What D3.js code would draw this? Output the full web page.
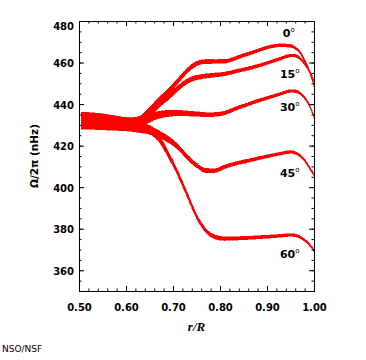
<!DOCTYPE html>
<html>
<head>
<meta charset="utf-8">
<script src="https://cdn.jsdelivr.net/npm/d3@7"></script>
<style>
  html, body { margin: 0; padding: 0; background: #fff; }
  svg { display: block; }
  text { font-family: "DejaVu Sans", sans-serif; }
</style>
</head>
<body>
<svg id="chart" width="366" height="360"></svg>
<script>
// ---- data ----
const radius = [0.505, 0.53, 0.56, 0.59, 0.61, 0.63, 0.65, 0.67, 0.69, 0.71, 0.73, 0.75, 0.77, 0.79,
                0.81, 0.83, 0.85, 0.87, 0.89, 0.91, 0.93, 0.95, 0.96, 0.97, 0.98, 0.99, 1.00];
const lat0  = [432.5, 432.3, 431.8, 431.0, 430.8, 432.0, 436.5, 441.5, 446.0, 451.0, 456.0, 459.5, 460.5, 460.5,
               460.6, 461.8, 463.5, 465.0, 466.5, 467.8, 468.3, 468.0, 467.0, 465.0, 461.0, 456.0, 449.0];
const lat15 = [432.3, 432.1, 431.6, 430.9, 430.7, 431.5, 435.5, 440.0, 443.5, 447.5, 451.0, 452.8, 453.5, 454.0,
               454.5, 455.6, 456.6, 457.8, 459.0, 460.5, 462.0, 463.4, 463.3, 462.0, 459.5, 456.0, 451.0];
const lat30 = [432.0, 431.9, 431.4, 430.8, 430.6, 431.3, 433.3, 434.8, 435.5, 435.7, 435.5, 435.2, 434.9, 435.0,
               435.7, 437.5, 439.2, 440.8, 442.2, 443.6, 445.0, 446.3, 446.2, 445.3, 443.0, 439.5, 434.0];
const lat45 = [431.8, 431.6, 431.0, 430.3, 430.0, 429.3, 427.5, 425.5, 423.0, 419.5, 414.5, 410.5, 408.0, 408.0,
               409.8, 411.2, 412.3, 413.3, 414.3, 415.3, 416.2, 417.0, 416.5, 415.2, 413.0, 409.5, 406.0];
const lat60 = [431.5, 431.3, 430.7, 430.0, 429.5, 428.5, 427.5, 423.5, 415.8, 406.8, 396.5, 386.0, 379.0, 376.0,
               375.2, 375.3, 375.5, 375.7, 376.0, 376.3, 376.6, 377.0, 376.8, 376.0, 374.5, 372.5, 369.5];
// half-width of each band (uncertainty, nHz)
const halfWidth = [3.6, 3.5, 3.2, 2.8, 2.6, 2.3, 2.0, 1.7, 1.5, 1.3, 1.2, 1.1, 1.0, 0.95,
                   0.9, 0.85, 0.8, 0.78, 0.75, 0.72, 0.7, 0.68, 0.66, 0.64, 0.62, 0.6, 0.55];
const latitudes = ["0", "15", "30", "45", "60"];
const seriesValues = [lat0, lat15, lat30, lat45, lat60];
// label anchor points in data units (r, nHz)
const labelR = [0.9335, 0.9275, 0.9275, 0.9275, 0.9275];
const labelV = [472.2, 452.5, 436.5, 405.0, 366.0];

const xTicks = [0.5, 0.6, 0.7, 0.8, 0.9, 1.0];
const xTickLabels = ["0.50", "0.60", "0.70", "0.80", "0.90", "1.00"];
const yTicks = [360, 380, 400, 420, 440, 460, 480];
const yTickLabels = ["360", "380", "400", "420", "440", "460", "480"];

// ---- layout ----
const svg = d3.select("#chart");
const X0 = 79, X1 = 314, Y0 = 291, Y1 = 21;
const x = d3.scaleLinear().domain([0.5, 1.0]).range([X0, X1]);
const y = d3.scaleLinear().domain([350, 480]).range([Y0, Y1]);

// bands
const area = d3.area()
  .x(d => x(d.r))
  .y0(d => y(d.v - d.h))
  .y1(d => y(d.v + d.h))
  .curve(d3.curveMonotoneX);

seriesValues.forEach((vals) => {
  const pts = radius.map((r, i) => ({ r: r, v: vals[i], h: halfWidth[i] }));
  svg.append("path")
    .datum(pts)
    .attr("d", area)
    .attr("fill", "#ff0000")
    .attr("stroke", "#ff0000")
    .attr("stroke-width", 0.5)
    .attr("shape-rendering", "crispEdges");
});

// axes
const minorX = d3.range(0, 26).map(i => 0.5 + i * 0.02);
const minorY = d3.range(0, 27).map(i => 350 + i * 5);

function styleAxis(g) {
  g.selectAll(".domain").attr("stroke", "#000").attr("stroke-width", 1);
  g.selectAll(".tick line").attr("stroke", "#000").attr("stroke-width", 1);
}

// bottom
svg.append("g").attr("transform", `translate(0,${Y0})`)
  .call(d3.axisBottom(x).tickValues(minorX).tickFormat("").tickSizeInner(-2.5).tickSizeOuter(0))
  .call(styleAxis);
const bx = svg.append("g").attr("transform", `translate(0,${Y0})`)
  .call(d3.axisBottom(x).tickValues(xTicks).tickFormat((d, i) => xTickLabels[i]).tickSizeInner(-5).tickSizeOuter(0).tickPadding(13))
  .call(styleAxis);
bx.selectAll("text").attr("font-size", 10).attr("font-weight", "bold").attr("fill", "#000");

// top
svg.append("g").attr("transform", `translate(0,${Y1})`)
  .call(d3.axisTop(x).tickValues(minorX).tickFormat("").tickSizeInner(-2.5).tickSizeOuter(0))
  .call(styleAxis);
svg.append("g").attr("transform", `translate(0,${Y1})`)
  .call(d3.axisTop(x).tickValues(xTicks).tickFormat("").tickSizeInner(-5).tickSizeOuter(0))
  .call(styleAxis);

// left
svg.append("g").attr("transform", `translate(${X0},0)`)
  .call(d3.axisLeft(y).tickValues(minorY).tickFormat("").tickSizeInner(-2.5).tickSizeOuter(0))
  .call(styleAxis);
const ly = svg.append("g").attr("transform", `translate(${X0},0)`)
  .call(d3.axisLeft(y).tickValues(yTicks).tickFormat((d, i) => yTickLabels[i]).tickSizeInner(-5).tickSizeOuter(0).tickPadding(5))
  .call(styleAxis);
ly.selectAll("text").attr("font-size", 10).attr("font-weight", "bold").attr("fill", "#000")
  .attr("dy", (d) => d === 480 ? "0.8em" : "0.42em");

// right
svg.append("g").attr("transform", `translate(${X1},0)`)
  .call(d3.axisRight(y).tickValues(minorY).tickFormat("").tickSizeInner(-2.5).tickSizeOuter(0))
  .call(styleAxis);
svg.append("g").attr("transform", `translate(${X1},0)`)
  .call(d3.axisRight(y).tickValues(yTicks).tickFormat("").tickSizeInner(-5).tickSizeOuter(0))
  .call(styleAxis);

// latitude labels
latitudes.forEach((lab, i) => {
  const t = svg.append("text")
    .attr("x", x(labelR[i]))
    .attr("y", y(labelV[i]))
    .attr("font-size", 11)
    .attr("font-weight", "bold")
    .attr("fill", "#000");
  t.append("tspan").text(lab);
  t.append("tspan").text("o").attr("font-size", 7).attr("font-weight", "normal").attr("dy", -5);
});

// axis titles
svg.append("text")
  .attr("x", (X0 + X1) / 2)
  .attr("y", 331)
  .attr("text-anchor", "middle")
  .style("font-family", "'Liberation Serif', serif")
  .attr("font-size", 13)
  .attr("font-weight", "bold")
  .attr("font-style", "italic")
  .text("r/R");

svg.append("text")
  .attr("transform", `translate(38,156) rotate(-90)`)
  .attr("text-anchor", "middle")
  .attr("font-size", 10.5)
  .attr("font-weight", "bold")
  .text("Ω/2π (nHz)");

svg.append("text")
  .attr("x", 2)
  .attr("y", 352)
  .attr("font-size", 9)
  .text("NSO/NSF");
</script>
</body>
</html>
